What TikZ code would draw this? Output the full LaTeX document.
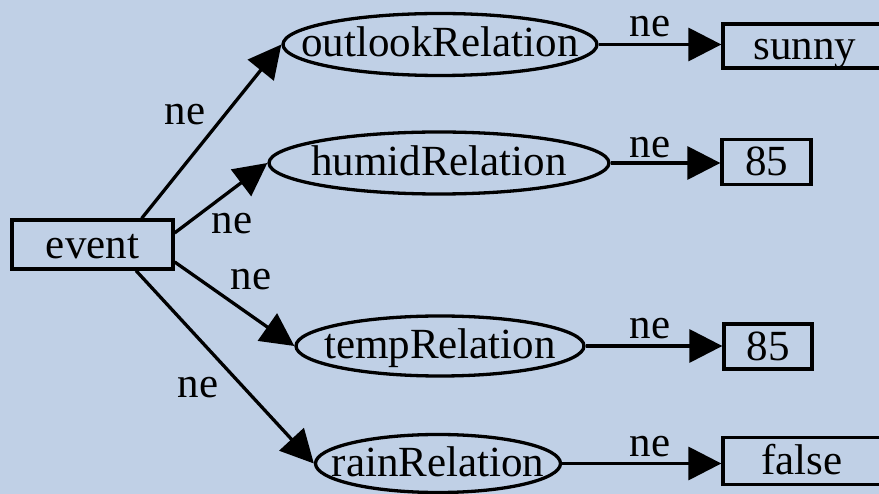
\documentclass[tikz,border=0pt]{standalone}
\usepackage{fontspec}
\setmainfont{Liberation Serif}
\usetikzlibrary{arrows.meta,shapes.geometric}
\definecolor{bgblue}{RGB}{192,208,230}
\begin{document}
\begin{tikzpicture}[x=1pt,y=-1pt,
  every node/.style={font=\rmfamily\fontsize{43}{48}\selectfont},
  rel/.style={ellipse, draw, line width=3.3pt, inner sep=0pt,
              text height=32pt, text depth=7pt},
  valbox/.style={rectangle, draw, line width=3.3pt, inner sep=0pt,
              text height=31pt, text depth=3pt},
  link/.style={line width=3.3pt, -{Triangle[length=33pt,width=33pt]}},
  lab/.style={inner sep=0pt}]
% background and frame
\fill[bgblue] (0,0) rectangle (879,494);
\useasboundingbox (0,0) rectangle (879,494);
\clip (0,0) rectangle (879,494);

% root
\node[valbox, minimum width=161pt, minimum height=49pt] (event) at (92.5,244.5) {event};

% relations (text set in zero-width boxes so the ellipse keeps its given size)
\node[rel, minimum width=314pt, minimum height=62pt] (outlook) at (440,44.5) {\makebox[0pt]{outlookRelation}};
\node[rel, minimum width=340pt, minimum height=62pt] (humid) at (439,163) {\makebox[0pt]{humidRelation}};
\node[rel, minimum width=288pt, minimum height=60pt] (temp) at (440,346) {\makebox[0pt]{tempRelation}};
\node[rel, minimum width=245pt, minimum height=58pt] (rain) at (438,463.5) {\makebox[0pt]{rainRelation}};

% values
\node[valbox, minimum width=164pt, minimum height=44pt] (sunny) at (805,46) {sunny};
\node[valbox, minimum width=89pt, minimum height=45pt] (h85) at (766.5,162) {85};
\node[valbox, minimum width=88pt, minimum height=45pt] (t85) at (768,346.5) {85};
\node[valbox, minimum width=158pt, minimum height=47pt] (false) at (802,461) {false};

% edges from the root
\draw[link] (event.28) -- (outlook.west);
\draw[link] (event.8) -- (humid.west);
\draw[link] (event.-12) -- (temp.west);
\draw[link] (event.-31) -- (rain.west);

% edges to the values
\draw[link] (outlook.east) -- (sunny.west |- outlook.east);
\draw[link] (humid.east) -- (h85.west |- humid.east);
\draw[link] (temp.east) -- (t85.west |- temp.east);
\draw[link] (rain.east) -- (false.west |- rain.east);

% edge labels
\node[lab] (l1) at (185,115) {ne};
\node[lab] (l2) at (232,224) {ne};
\node[lab] (l3) at (251,280) {ne};
\node[lab] (l4) at (198,388) {ne};
\node[lab] (l5) at (650,27) {ne};
\node[lab] (l6) at (650,148) {ne};
\node[lab] (l7) at (650,329) {ne};
\node[lab] (l8) at (650,447) {ne};
\end{tikzpicture}
\end{document}
